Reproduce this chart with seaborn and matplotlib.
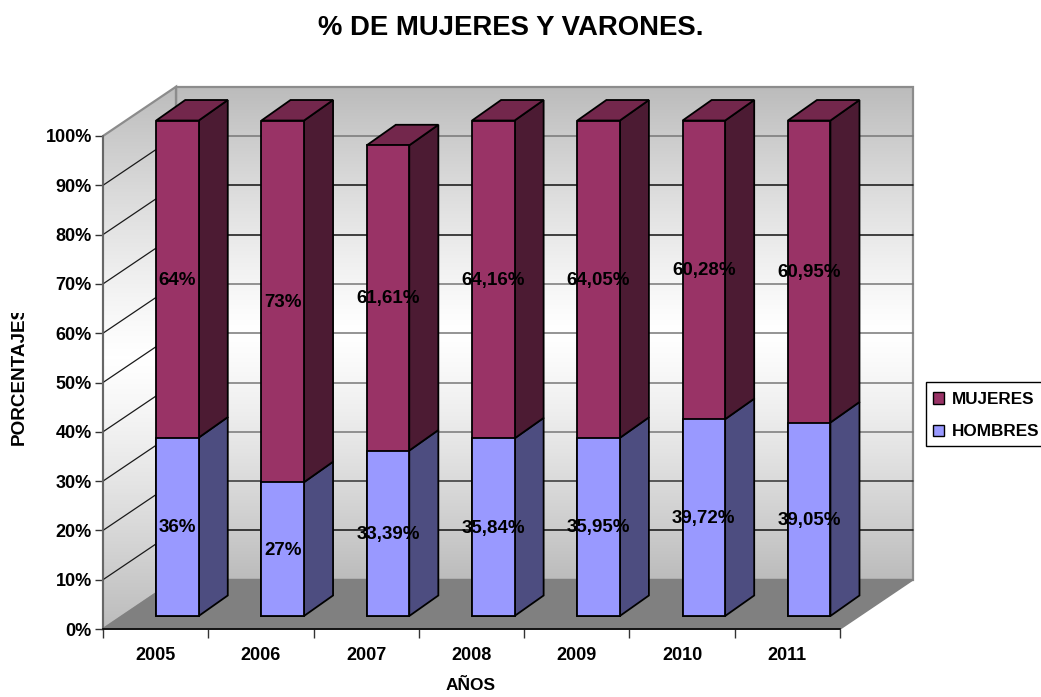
import numpy as np
import pandas as pd
import matplotlib
matplotlib.use("Agg")
import matplotlib.pyplot as plt
from matplotlib.patches import Polygon, Patch, Rectangle
from matplotlib.transforms import Bbox
import seaborn as sns

anios = ["2005", "2006", "2007", "2008", "2009", "2010", "2011"]
hombres = [36, 27, 33.39, 35.84, 35.95, 39.72, 39.05]
mujeres = [64, 73, 61.61, 64.16, 64.05, 60.28, 60.95]
etq_hombres = ["36%", "27%", "33,39%", "35,84%", "35,95%", "39,72%", "39,05%"]
etq_mujeres = ["64%", "73%", "61,61%", "64,16%", "64,05%", "60,28%", "60,95%"]
ticks_y = list(range(0, 101, 10))

COL_M, COL_M_LADO, COL_M_TECHO = "#993366", "#4c1b33", "#73274c"
COL_H, COL_H_LADO = "#9999ff", "#4d4d80"
# color de cada linea de la pared del fondo (10% a 90%)
COL_REJILLA = ["#111111", "#333333", "#777777", "#777777", "#777777", "#777777", "#111111", "#111111", "#777777"]

# falso 3D: desplazamientos oblicuos en unidades de datos
PARED_X, PARED_Y = 0.694, 10.0
BASE_X, BASE_Y = 0.207, 2.64
FONDO_X, FONDO_Y = 0.276, 4.16
ANCHO = 0.404
ESCALA = 1.005

sns.set_style("white")
plt.rcParams["font.family"] = ["Liberation Sans", "DejaVu Sans"]
plt.rcParams["font.weight"] = "bold"
plt.rcParams["text.color"] = "black"

W, H = 1041, 697
fig = plt.figure(figsize=(W / 100, H / 100), dpi=100)
ax = fig.add_axes([103 / W, 1 - 629 / H, 737 / W, 493 / H])
ax.set_xlim(-0.5, 6.5)
ax.set_ylim(0, 100)


def pared(puntos, zorder=1):
    # degradado gris-blanco-gris recortado a la pared
    parche = Polygon(puntos, closed=True, fc="none", ec="#8c8c8c", lw=1.6, zorder=zorder + 1, clip_on=False)
    ax.add_patch(parche)
    xs = [p[0] for p in puntos]
    ys = [p[1] for p in puntos]
    grad = (np.abs(np.linspace(-1, 1, 256)) ** 1.2).reshape(-1, 1)
    im = ax.imshow(grad, extent=[min(xs), max(xs), min(ys), max(ys)], origin="lower", aspect="auto",
                   cmap=matplotlib.colors.LinearSegmentedColormap.from_list("g", ["#ffffff", "#bcbcbc"]),
                   vmin=0, vmax=1, zorder=zorder)
    im.set_clip_box(fig.bbox)
    im.set_clip_path(parche)


x0, x1 = -0.5, 6.5
pared([(x0, 0), (x0 + PARED_X, PARED_Y), (x0 + PARED_X, 100 + PARED_Y), (x0, 100)])
pared([(x0 + PARED_X, PARED_Y), (x1 + PARED_X, PARED_Y), (x1 + PARED_X, 100 + PARED_Y), (x0 + PARED_X, 100 + PARED_Y)])
ax.set_xlim(x0, x1)
ax.set_ylim(0, 100)

# rejilla sobre las paredes
for t, col in zip(ticks_y[1:-1], COL_REJILLA):
    ax.plot([x0, x0 + PARED_X], [t, t + PARED_Y], color="#1a1a1a", lw=0.9, zorder=3, clip_on=False)
    ax.plot([x0 + PARED_X, x1 + PARED_X], [t + PARED_Y, t + PARED_Y], color=col, lw=1.1, zorder=3, clip_on=False)
ax.add_patch(Polygon([(x0, 0), (x0 + PARED_X, PARED_Y), (x1 + PARED_X, PARED_Y), (x1, 0)], closed=True,
                     fc="#808080", ec="#808080", lw=1.2, zorder=4, clip_on=False))

df = pd.DataFrame({"anio": anios, "hombres": hombres, "mujeres": mujeres})
df["pos"] = np.arange(len(df)) + BASE_X
df["alto_h"] = df["hombres"] * ESCALA
df["alto_m"] = df["mujeres"] * ESCALA
df["total"] = df["alto_h"] + df["alto_m"]

# caras laterales y techo
for _, fila in df.iterrows():
    der = fila["pos"] + ANCHO / 2
    izq = fila["pos"] - ANCHO / 2
    y0, y1, y2 = BASE_Y, BASE_Y + fila["alto_h"], BASE_Y + fila["total"]
    for a, b, col in [(y0, y1, COL_H_LADO), (y1, y2, COL_M_LADO)]:
        ax.add_patch(Polygon([(der, a), (der + FONDO_X, a + FONDO_Y), (der + FONDO_X, b + FONDO_Y), (der, b)],
                             closed=True, fc=col, ec="black", lw=1.3, zorder=5, clip_on=False))
    ax.add_patch(Polygon([(izq, y2), (izq + FONDO_X, y2 + FONDO_Y), (der + FONDO_X, y2 + FONDO_Y), (der, y2)],
                         closed=True, fc=COL_M_TECHO, ec="black", lw=1.3, zorder=5, clip_on=False))

# caras frontales
sns.barplot(data=df, x="pos", y="total", native_scale=True, width=ANCHO, color=COL_M, saturation=1,
            edgecolor="black", linewidth=1.3, bottom=BASE_Y, zorder=6, ax=ax, legend=False)
sns.barplot(data=df, x="pos", y="alto_h", native_scale=True, width=ANCHO, color=COL_H, saturation=1,
            edgecolor="black", linewidth=1.3, bottom=BASE_Y, zorder=7, ax=ax, legend=False)
for b in ax.patches:
    b.set_clip_on(False)

for fila, eh, em in zip(df.to_dict("records"), etq_hombres, etq_mujeres):
    ax.text(fila["pos"], BASE_Y + fila["alto_h"] / 2 - 0.2, eh, ha="center", va="center", fontsize=13.5,
            zorder=10, clip_on=False)
    ax.text(fila["pos"], BASE_Y + fila["alto_h"] + fila["alto_m"] / 2 - 0.2, em, ha="center", va="center",
            fontsize=13.5, zorder=10, clip_on=False)

ax.set_xlim(x0, x1)
ax.set_ylim(0, 100)
ax.patch.set_visible(False)
for lado in ["top", "right"]:
    ax.spines[lado].set_visible(False)
ax.spines["left"].set_color("#606060")
ax.spines["left"].set_linewidth(1.2)
ax.spines["bottom"].set_color("black")
ax.spines["bottom"].set_linewidth(1.2)
ax.spines["left"].set_zorder(8)
ax.spines["bottom"].set_zorder(8)

ax.set_yticks(ticks_y)
ax.set_yticklabels([f"{t}%" for t in ticks_y], fontsize=13)
ax.set_xticks(np.arange(-0.5, 7, 1), minor=False)
ax.set_xticklabels([""] * 8)
ax.set_xticks(np.arange(7), minor=True)
ax.set_xticklabels(anios, minor=True, fontsize=13)
ax.tick_params(axis="y", left=True, length=6, width=1, color="#333333", labelcolor="black", pad=2)
ax.tick_params(axis="x", which="major", bottom=True, length=6.5, width=1, color="#333333")
ax.tick_params(axis="x", which="minor", bottom=False, length=0, pad=13, labelcolor="black")
ax.set_xlabel("")
ax.set_ylabel("")

fig.text(511 / W, 1 - 28 / H, "% DE MUJERES Y VARONES.", ha="center", va="center", fontsize=19.8)
# en el original la ultima letra queda cortada
et_y = fig.text(19.5 / W, 1 - 375 / H, "PORCENTAJES", rotation=90, ha="center", va="center", fontsize=13.6)
et_y.set_clip_box(Bbox.from_extents(0, 0, 60, H - 313))
et_y.set_clip_on(True)
fig.text(471 / W, 1 - 686 / H, "AÑOS", ha="center", va="center", fontsize=12.5)

ax.add_artist(Rectangle((926 / W, 1 - 446 / H), 130 / W, 64 / H, transform=fig.transFigure,
                        fc="white", ec="black", lw=1, zorder=19, clip_on=False))
ley = ax.legend(handles=[Patch(fc=COL_M, ec="black", label="MUJERES"), Patch(fc=COL_H, ec="black", label="HOMBRES")],
                loc="upper left", bbox_to_anchor=(926 / W, 1 - 385 / H), bbox_transform=fig.transFigure,
                fontsize=12.3, frameon=False, labelcolor="black",
                handlelength=0.66, handleheight=0.66, handletextpad=0.42, borderaxespad=0, borderpad=0.42,
                labelspacing=1.0)
ley.set_zorder(20)

fig.savefig("out.png", dpi=100)
